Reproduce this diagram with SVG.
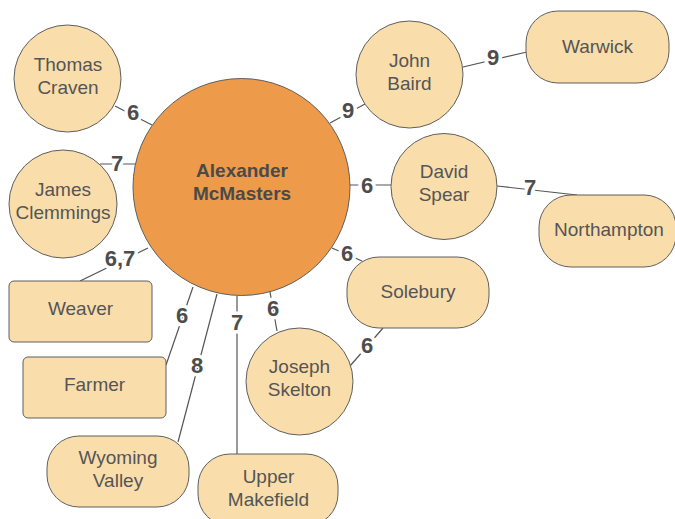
<svg xmlns="http://www.w3.org/2000/svg" width="675" height="519" viewBox="0 0 675 519">
  <style>
    .node { fill: #F9DDAB; stroke: #5f5f5f; stroke-width: 1; }
    .hub { fill: #ED9A4A; stroke: #5f5f5f; stroke-width: 1; }
    .lbl { font-family: "Liberation Sans", Arial, sans-serif; font-size: 19px; fill: #555555; text-anchor: middle; }
    .hubtxt { font-family: "Liberation Sans", Arial, sans-serif; font-size: 19px; font-weight: bold; fill: #4a4a4a; text-anchor: middle; }
    .edge { stroke: #555555; stroke-width: 1.2; fill: none; }
    .w { font-family: "Liberation Sans", Arial, sans-serif; font-size: 22px; font-weight: bold; fill: #4d4d4d; text-anchor: middle; stroke: #ffffff; stroke-width: 7; paint-order: stroke; stroke-linejoin: round; }
  </style>

  <!-- connectors with weight labels -->
  <g id="connectors">
    <line class="edge" x1="115" y1="106" x2="152" y2="125"/>
    <line class="edge" x1="100" y1="164" x2="135" y2="164"/>
    <line class="edge" x1="80" y1="281" x2="148" y2="248"/>
    <line class="edge" x1="166" y1="365" x2="193" y2="287"/>
    <line class="edge" x1="178" y1="442" x2="217" y2="294"/>
    <line class="edge" x1="237" y1="296" x2="237" y2="454"/>
    <line class="edge" x1="277" y1="331" x2="270" y2="292"/>
    <line class="edge" x1="332" y1="248" x2="362" y2="261"/>
    <line class="edge" x1="383" y1="328" x2="350" y2="366"/>
    <line class="edge" x1="365" y1="104" x2="330" y2="123"/>
    <line class="edge" x1="463" y1="67" x2="527" y2="52"/>
    <line class="edge" x1="350" y1="185" x2="391" y2="185"/>
    <line class="edge" x1="497" y1="186" x2="577" y2="195"/>

    <text class="w" x="133" y="120">6</text>
    <text class="w" x="117" y="171">7</text>
    <text class="w" x="120" y="266">6,7</text>
    <text class="w" x="182" y="323">6</text>
    <text class="w" x="197" y="373">8</text>
    <text class="w" x="237" y="330">7</text>
    <text class="w" x="273" y="316">6</text>
    <text class="w" x="347" y="261">6</text>
    <text class="w" x="367" y="353">6</text>
    <text class="w" x="348" y="118">9</text>
    <text class="w" x="493" y="65">9</text>
    <text class="w" x="367" y="193">6</text>
    <text class="w" x="530" y="195">7</text>
  </g>

  <g id="alexander-mcmasters">
    <circle class="hub" cx="241.5" cy="187" r="108.5"/>
    <text class="hubtxt" x="242" y="177">Alexander</text>
    <text class="hubtxt" x="242" y="200">McMasters</text>
  </g>

  <g id="thomas-craven">
    <circle class="node" cx="67.5" cy="78.5" r="53.5"/>
    <text class="lbl" x="68" y="71">Thomas</text>
    <text class="lbl" x="68" y="94">Craven</text>
  </g>

  <g id="james-clemmings">
    <circle class="node" cx="63" cy="204" r="54"/>
    <text class="lbl" x="63" y="196">James</text>
    <text class="lbl" x="63" y="219">Clemmings</text>
  </g>

  <g id="weaver">
    <rect class="node" x="9" y="281" width="143" height="61" rx="5"/>
    <text class="lbl" x="80.5" y="315">Weaver</text>
  </g>

  <g id="farmer">
    <rect class="node" x="23" y="357" width="143" height="61" rx="5"/>
    <text class="lbl" x="94.5" y="391">Farmer</text>
  </g>

  <g id="wyoming-valley">
    <rect class="node" x="47" y="436" width="142" height="71" rx="32"/>
    <text class="lbl" x="118" y="464">Wyoming</text>
    <text class="lbl" x="118" y="487">Valley</text>
  </g>

  <g id="upper-makefield">
    <rect class="node" x="198" y="454" width="140" height="72" rx="32"/>
    <text class="lbl" x="268.5" y="483">Upper</text>
    <text class="lbl" x="268.5" y="506">Makefield</text>
  </g>

  <g id="joseph-skelton">
    <circle class="node" cx="299.5" cy="381.5" r="53.5"/>
    <text class="lbl" x="299.5" y="373">Joseph</text>
    <text class="lbl" x="299.5" y="396">Skelton</text>
  </g>

  <g id="solebury">
    <rect class="node" x="347" y="257" width="142" height="71" rx="32"/>
    <text class="lbl" x="418" y="298">Solebury</text>
  </g>

  <g id="john-baird">
    <circle class="node" cx="409.5" cy="74.5" r="53.5"/>
    <text class="lbl" x="409.5" y="67">John</text>
    <text class="lbl" x="409.5" y="90">Baird</text>
  </g>

  <g id="warwick">
    <rect class="node" x="526" y="11" width="143" height="72" rx="32"/>
    <text class="lbl" x="597.5" y="53">Warwick</text>
  </g>

  <g id="david-spear">
    <circle class="node" cx="444" cy="186.5" r="53"/>
    <text class="lbl" x="444" y="178">David</text>
    <text class="lbl" x="444" y="201">Spear</text>
  </g>

  <g id="northampton">
    <rect class="node" x="539" y="195" width="137" height="72" rx="32"/>
    <text class="lbl" x="609" y="236">Northampton</text>
  </g>
</svg>
